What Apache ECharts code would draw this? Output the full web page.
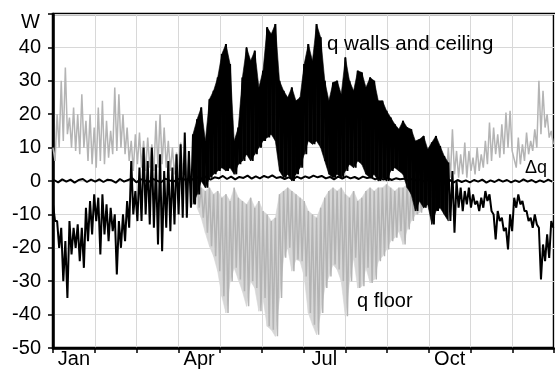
<!DOCTYPE html>
<html>
<head>
<meta charset="utf-8">
<script src="https://cdn.jsdelivr.net/npm/echarts@6/dist/echarts.min.js"></script>
<style>html,body{margin:0;padding:0;background:#fff}#c{width:555px;height:369px}</style>
</head>
<body>
<div id="c"></div>
<script>
// x tick labels (one band per month)
const monthLabels = ['Jan','','','Apr','','','Jul','','','Oct','',''];
// sampling step in days (high value then low value within each step)
const SAMPLE_DAYS = 3;
// sample index ranges where the daily swing is drawn as a filled range
const WALLS_BAND = [34, 96];
const FLOOR_BAND = [35, 95];

// q walls and ceiling: daily high / low
const wallsHigh = [
  -7,-12,-14,-18,-12,-14,-13,-14,-8,-6,-4,
  -5,-4,-7,-8,-10,-12,-10,-6,6,-3,
  4,10,6,10,5,8,3,6,4,8,
  11,14.5,9,14,18.5,22,12,24.5,27,31,
  38,41,35,12,16,31,40,36,39,28,
  33,46,44,47,30,27,25,28,24,25,
  35,41,36,47,43,30,24,29.5,30,26,
  37,30,27,33,32.5,28,31,30,24,24,
  21,19,17,15.5,18,16,15.5,12,12.5,13.5,
  9.5,11.5,13.5,10.5,7.5,5.5,3,0,-2,-3,
  -2,-4,-6,-5,-3,-4,-10,-9,-11,-14,
  -10,-5,-4,-6,-9,-11,-10,-14,-19,-16,-12
];
const wallsLow = [
  -12,-20,-30,-35,-22,-20,-24,-26,-18,-16,-12,
  -22,-16,-18,-15,-28,-20,-18,-14,-10,-12,
  -12,-10,-13,-14,-19,-21,-14,-15,-13,-10,
  -11,-11,-8,-7,-4,0,-2,1,2,3,
  4,3,4,2,5,6,8,6,8,10,
  12,13,14,12,3,1,2,0,2,4,
  8,12,11,12,10,6,2,1,2,1,
  3,5,4,6,5,2,1,2,0,1,
  0,3,4,3,2,-2,-4,-9,-6,-8,
  -7,-13,-9,-8,-10,-12,-15.5,-8,-9,-7,
  -8,-7,-9,-8,-6,-9,-17.5,-12,-15,-20.5,
  -15,-8,-7,-9,-12,-14,-13,-29.5,-24,-23,-14
];
// q floor: daily high / low
const floorHigh = [
  10,20,30,34,19,22,20,26,18,20,16,
  22,24,18,15,28,26,20,16,12,14,
  14.5,12,13,11,18,20,16,12,10,8.5,
  11.5,9,7,5,2,-2,-3,-2,-4,-3,
  -5,-4,-6,-2,-5,-6,-7,-5,-8,-6,
  -9,-10,-12,-11,-4,-3,-2,-3,-4,-5,
  -6,-9,-10,-11,-8,-5,-3,-2,-3,-2,
  -4,-5,-3,-6,-5,-3,-2,-3,-2,-2,
  -1,-2,-3,-2,-2,-1,0,1,1,2,
  2,3,4,5,6,10,15.5,9,8,11.5,
  9,7,10,8,12,17.5,16,14,17,20.5,
  21,6.5,13,11,14.5,12,15.5,30,27,20,15
];
const floorLow = [
  6,10,12,14,10,9,8,10,6,5,4,
  6,5,7,8,9,10,8,6,3,5,
  4,3,4,3,4,5,4,3,2,1,
  2,0,-2,-4,-8,-11,-15.5,-19.5,-22.5,-27,
  -34.5,-39.5,-30,-26,-29.5,-33,-37.5,-30,-32,-39,
  -35,-43.5,-44.5,-46.5,-35,-23,-20,-27,-23.5,-24,
  -28.6,-39.5,-43,-46,-39.5,-32,-28.6,-25,-26.5,-30,
  -40.5,-30,-23,-32,-31.5,-26,-30.5,-29.5,-24,-22.5,
  -20.5,-18,-17,-15,-19,-14.5,-12,-10,-9.5,-8,
  -6,-5,-4,-2,0,1,2,1,2,1,
  3,2,3,4,5,6,8,7,8,10,
  9,4,5,6,8,9,10,14,16,13,11
];
// delta q
const deltaQ = [
  0.3,-0.4,0.5,-0.2,0.4,-0.5,0.3,0.6,-0.3,0.4,-0.2,
  0.5,-0.3,0.4,0.2,-0.5,0.6,-0.2,0.3,0.8,-0.4,
  0.5,0.2,-0.3,0.6,0.1,-0.4,0.7,0.2,-0.2,0.5,
  0.8,0.3,1,0.2,1.2,0.6,1.4,0.4,1.1,0.8,
  1.5,0.6,1.3,0.5,1.2,0.9,1.6,0.7,1.4,0.8,
  1.5,1,1.7,0.9,1.2,0.6,1.1,0.5,1.3,0.7,
  1.4,0.9,1.6,1.1,1.5,0.8,1.2,0.5,1.3,0.7,
  1.4,0.8,1.2,0.6,1.3,0.9,1.1,0.5,1,0.4,
  0.9,0.3,0.8,0.5,0.7,0.2,0.6,0.1,0.5,-0.2,
  0.4,-0.3,0.5,0.1,-0.2,0.4,-0.5,0.3,-0.3,0.2,
  -0.4,0.3,-0.2,0.4,-0.5,0.2,-0.3,0.4,-0.2,0.3,
  -0.4,0.2,-0.3,0.5,-0.2,0.3,-0.4,0.2,-0.3,0.4,-0.2
];

function hiLo(hi, lo) {
  const out = [];
  for (let i = 0; i < hi.length; i++) {
    out.push([i * SAMPLE_DAYS, hi[i]]);
    out.push([i * SAMPLE_DAYS + SAMPLE_DAYS / 2, lo[i]]);
  }
  return out;
}
function single(vals) {
  return vals.map((v, i) => [i * SAMPLE_DAYS + SAMPLE_DAYS / 4, v]);
}
// one row per segment of the filled daily range: [x0, lo0, hi0, x1, lo1, hi1]
function bandRows(hi, lo, r) {
  const out = [];
  for (let i = r[0]; i < r[1]; i++) {
    out.push([i * SAMPLE_DAYS, lo[i], hi[i], (i + 1) * SAMPLE_DAYS, lo[i + 1], hi[i + 1]]);
  }
  return out;
}
function bandSeries(name, rows, color, z) {
  return {
    name: name, type: 'custom', xAxisIndex: 1, data: rows, silent: true, z: z,
    encode: {x: [0, 3], y: [1, 2, 4, 5]},
    renderItem: function (params, api) {
      const a = api.coord([api.value(0), api.value(1)]);
      const b = api.coord([api.value(0), api.value(2)]);
      const c = api.coord([api.value(3), api.value(5)]);
      const d = api.coord([api.value(3), api.value(4)]);
      return {type: 'polygon', shape: {points: [a, b, c, d]},
        style: {fill: color, stroke: color, lineWidth: 0.6}};
    }
  };
}

const FONT = '"Liberation Sans", Arial, sans-serif';
const chart = echarts.init(document.getElementById('c'), null, {renderer: 'canvas'});
chart.setOption({
  animation: false,
  backgroundColor: '#fff',
  grid: {left: 53, right: 1, top: 14, bottom: 21, show: true, borderColor: '#000', borderWidth: 2.5, backgroundColor: 'transparent'},
  xAxis: [
    {
      type: 'category', data: monthLabels, boundaryGap: true,
      axisLine: {show: true, onZero: false, lineStyle: {color: '#000', width: 2.5}},
      axisTick: {show: true, interval: 0, length: 5, inside: false, lineStyle: {color: '#000', width: 1.5}},
      axisLabel: {interval: 0, margin: 1, color: '#000', fontSize: 20, fontFamily: FONT},
      splitLine: {show: true, interval: 0, lineStyle: {color: '#d8d8d8', width: 1}}
    },
    {type: 'value', min: 0, max: 365, show: false}
  ],
  yAxis: {
    type: 'value', min: -50, max: 50, interval: 10,
    axisLine: {show: true, onZero: false, lineStyle: {color: '#000', width: 2.5}},
    axisTick: {show: true, length: 5, inside: false, lineStyle: {color: '#000', width: 1.5}},
    axisLabel: {margin: 12, color: '#000', fontSize: 20, fontFamily: FONT,
      formatter: v => (v === 50 ? '' : String(v))},
    splitLine: {show: true, lineStyle: {color: '#d8d8d8', width: 1}}
  },
  series: [
    bandSeries('floorRange', bandRows(floorHigh, floorLow, FLOOR_BAND), '#d6d6d6', 1),
    {name: 'q floor', type: 'line', xAxisIndex: 1, data: hiLo(floorHigh, floorLow), showSymbol: false,
      lineStyle: {color: '#b4b4b4', width: 1.5}, z: 2, silent: true},
    bandSeries('wallsRange', bandRows(wallsHigh, wallsLow, WALLS_BAND), '#000', 3),
    {name: 'q walls and ceiling', type: 'line', xAxisIndex: 1, data: hiLo(wallsHigh, wallsLow), showSymbol: false,
      lineStyle: {color: '#000', width: 2}, z: 3, silent: true},
    {name: 'Δq', type: 'line', xAxisIndex: 1, data: single(deltaQ), showSymbol: false,
      lineStyle: {color: '#000', width: 2}, z: 4, silent: true}
  ],
  graphic: [
    {type: 'text', x: 40, y: 22.5, style: {text: 'W', font: '20px ' + FONT, fill: '#000', align: 'right', verticalAlign: 'middle'}},
    {type: 'text', x: 327, y: 44, style: {text: 'q walls and ceiling', font: '20.5px ' + FONT, fill: '#000', verticalAlign: 'middle'}, z: 10},
    {type: 'text', x: 357, y: 301, style: {text: 'q floor', font: '20px ' + FONT, fill: '#000', verticalAlign: 'middle'}, z: 10},
    {type: 'text', x: 525, y: 168, style: {text: 'Δq', font: '18px ' + FONT, fill: '#000', verticalAlign: 'middle'}, z: 10}
  ]
});
</script>
</body>
</html>
